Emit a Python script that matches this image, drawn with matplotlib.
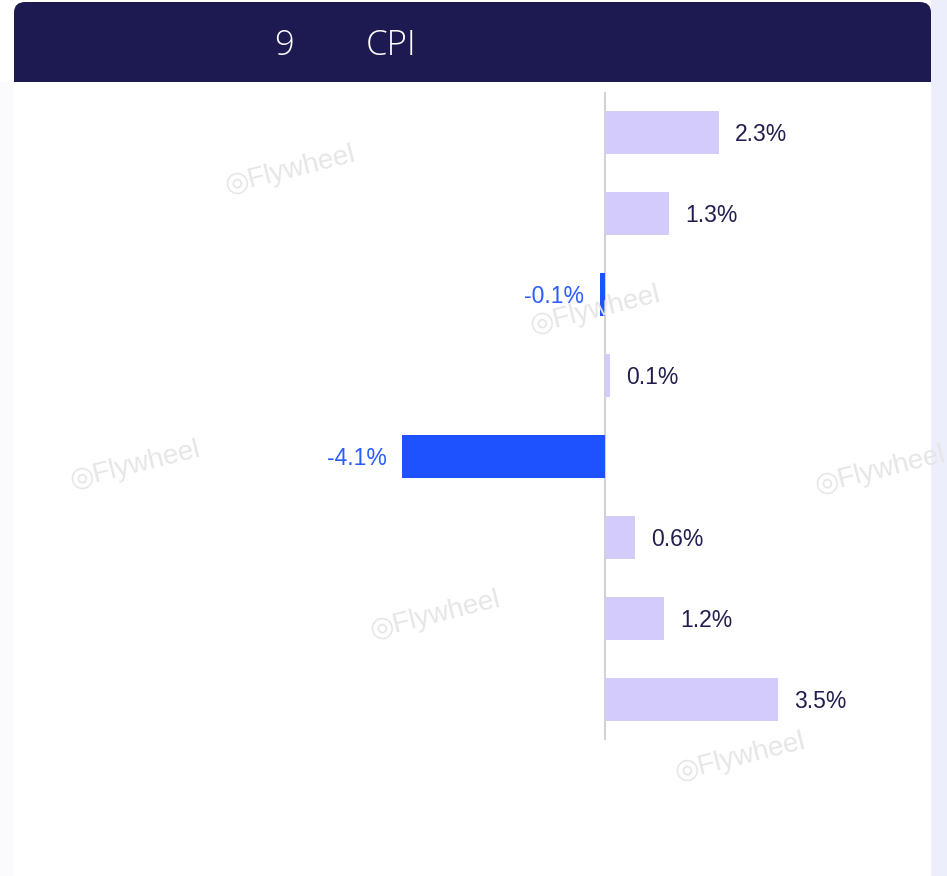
import matplotlib
matplotlib.use("Agg")
import matplotlib.pyplot as plt
from matplotlib.patches import FancyBboxPatch, Rectangle

W, H = 947, 876

title_left = "9"
title_right = "CPI"
categories = ["c1", "c2", "c3", "c4", "c5", "c6", "c7", "c8"]
values = [2.3, 1.3, -0.1, 0.1, -4.1, 0.6, 1.2, 3.5]
labels = ["2.3%", "1.3%", "-0.1%", "0.1%", "-4.1%", "0.6%", "1.2%", "3.5%"]

POS_COLOR = "#d3ccfa"
NEG_COLOR = "#1f52ff"
POS_TEXT = "#221e50"
NEG_TEXT = "#2a5cff"
HEADER = "#1d1a52"

plt.rcParams['font.family'] = ['Liberation Sans', 'DejaVu Sans']

fig = plt.figure(figsize=(W / 100, H / 100), dpi=100)
fig.patch.set_facecolor("white")


def fx(px):
    return px / W


def fy(py):
    return 1 - py / H


# right-side lavender strip
fig.patches.append(Rectangle((fx(931), 0), fx(W - 931), 1, transform=fig.transFigure,
                             facecolor="#eceefb", edgecolor="none", zorder=0))
fig.patches.append(Rectangle((0, 0), fx(14), fy(82), transform=fig.transFigure,
                             facecolor="#fbfbfd", edgecolor="none", zorder=0))

# header
fig.patches.append(FancyBboxPatch((fx(14), fy(82)), fx(931 - 14), (82 - 2) / H,
                                  boxstyle="round,pad=0,rounding_size=0.012",
                                  transform=fig.transFigure, facecolor=HEADER,
                                  edgecolor="none", zorder=1))
fig.patches.append(Rectangle((fx(14), fy(82)), fx(931 - 14), 40 / H,
                             transform=fig.transFigure, facecolor=HEADER,
                             edgecolor="none", zorder=1))
fig.text(fx(274), fy(46), title_left, color="white", fontsize=25, ha="left", va="center",
         family=["Open Sans", "DejaVu Sans"], fontweight="light", zorder=3)
fig.text(fx(366), fy(46), title_right, color="white", fontsize=25, ha="left", va="center",
         family=["Open Sans", "DejaVu Sans"], fontweight="light", zorder=3)

# watermarks
wm = [(290, 170), (595, 310), (135, 465), (880, 470), (435, 615), (740, 757)]
for x, y in wm:
    fig.text(fx(x), fy(y), "◎Flywheel", color="#e6e6e6", fontsize=20, rotation=14,
             ha="center", va="center", zorder=5)

# axes
x0, x1, zero = 20, 931, 605
scale = 49.4
ax = fig.add_axes([fx(x0), fy(740), fx(x1 - x0), 648 / H])
ax.set_xlim(-(zero - x0) / scale, (x1 - zero) / scale)
ax.set_ylim(len(values) - 0.5, -0.5)
ax.axis("off")

colors = [POS_COLOR if v >= 0 else NEG_COLOR for v in values]
ypos = list(range(len(values)))
ax.barh(ypos, values, height=0.52, color=colors, zorder=2)
ax.axvline(0, color="#d2d2d2", lw=1.5, zorder=1)

off = 16 / scale
for i, (v, lab) in enumerate(zip(values, labels)):
    if v >= 0:
        ax.text(v + off, i + 0.02, lab, color=POS_TEXT, fontsize=16.5, ha="left", va="center")
    else:
        ax.text(v - off, i + 0.02, lab, color=NEG_TEXT, fontsize=16.5, ha="right", va="center")

fig.savefig("out.png", dpi=100)
